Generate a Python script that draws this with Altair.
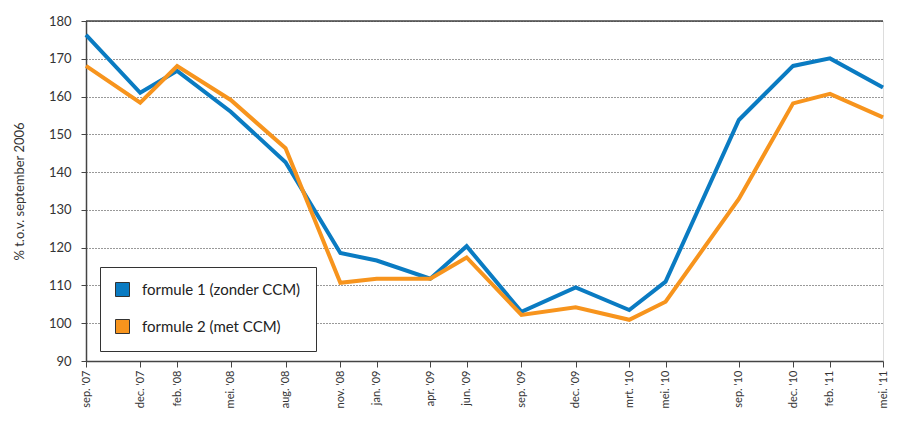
import json
from datetime import datetime, timezone
import altair as alt
import pandas as pd

DATES = ["2007-09-01", "2007-12-01", "2008-02-01", "2008-05-01", "2008-08-01",
         "2008-11-01", "2009-01-01", "2009-04-01", "2009-06-01", "2009-09-01",
         "2009-12-01", "2010-03-01", "2010-05-01", "2010-09-01", "2010-12-01",
         "2011-02-01", "2011-05-01"]
TICK_LABELS = ["sep. '07", "dec. '07", "feb. '08", "mei. '08", "aug. '08",
               "nov. '08", "jan. '09", "apr. '09", "jun. '09", "sep. '09",
               "dec. '09", "mrt. '10", "mei. '10", "sep. '10", "dec. '10",
               "feb. '11", "mei. '11"]
SERIES = ["formule 1 (zonder CCM)", "formule 2 (met CCM)"]
F1 = [176.3, 161.0, 166.8, 156.0, 142.6, 118.6, 116.6, 111.8, 120.4, 103.0,
      109.5, 103.5, 111.0, 153.8, 168.1, 170.1, 162.4]
F2 = [168.1, 158.4, 168.1, 159.1, 146.3, 110.7, 111.8, 111.8, 117.4, 102.2,
      104.2, 100.9, 105.7, 132.9, 158.2, 160.7, 154.5]
COLORS = ["#0a7bc2", "#f7941d"]
Y_TICKS = [90, 100, 110, 120, 130, 140, 150, 160, 170, 180]
Y_TOP = 180
X_DOMAIN = ["2007-09-01", "2011-05-01"]


def ms(d):
    return int(datetime.strptime(d, "%Y-%m-%d").replace(tzinfo=timezone.utc).timestamp() * 1000)


rows = []
for s, vals in zip(SERIES, [F1, F2]):
    for d, v in zip(DATES, vals):
        rows.append({"date": d, "value": v, "serie": s, "legenda": s})
df = pd.DataFrame(rows)
df_top = pd.DataFrame({"value": [Y_TOP]})

tick_ms = [ms(d) for d in DATES]
label_expr = "%s[indexof(%s, time(datum.value))]" % (json.dumps(TICK_LABELS), json.dumps(tick_ms))

FONT = "Lato"

x_enc = alt.X("date:T",
              scale=alt.Scale(type="utc", domain=[ms(X_DOMAIN[0]), ms(X_DOMAIN[1])], nice=False),
              axis=alt.Axis(values=tick_ms, labelExpr=label_expr, labelAngle=-90,
                            labelAlign="right", labelBaseline="middle", labelPadding=3,
                            tickSize=6, title=None, grid=False, labelFontSize=11,
                            labelColor="#333", tickColor="#444", domainColor="#444",
                            domainWidth=1.5, labelFont=FONT, labelOverlap=False))
y_enc = alt.Y("value:Q", scale=alt.Scale(domain=[90, 180], nice=False, zero=False),
              axis=alt.Axis(values=Y_TICKS, title="% t.o.v. september 2006",
                            titleFontWeight="normal", titleFontSize=13, titleColor="#333",
                            titleFont=FONT, titlePadding=22,
                            labelFontSize=13, labelColor="#333", labelFont=FONT,
                            labelPadding=10, tickSize=5, tickColor="#444",
                            domainColor="#444", domainWidth=1.5,
                            grid=True, gridDash=[1, 2], gridColor="#333", gridWidth=1))

base = alt.Chart(df)

top_rule = alt.Chart(df_top).mark_rule(color="#444", strokeWidth=1.5).encode(y=y_enc)

lines = base.mark_line(strokeWidth=4, clip=False).encode(
    x=x_enc, y=y_enc,
    stroke=alt.Stroke("serie:N", scale=alt.Scale(domain=SERIES, range=COLORS), legend=None),
)

keys = base.mark_square(size=0, filled=True).encode(
    x=x_enc, y=y_enc,
    fill=alt.Fill("legenda:N", scale=alt.Scale(domain=SERIES, range=COLORS),
                  legend=alt.Legend(orient="none", legendX=14, legendY=246, title=None,
                                    padding=15, rowPadding=18, fillColor="white",
                                    strokeColor="#333", symbolType="square",
                                    symbolSize=196, symbolStrokeColor="#333",
                                    symbolStrokeWidth=1, symbolOpacity=1,
                                    labelFontSize=15, labelFont=FONT,
                                    labelColor="#222", labelOffset=12)),
)

chart = alt.layer(lines, top_rule, keys).resolve_scale(fill="independent").properties(
    width=797, height=340,
    autosize=alt.AutoSizeParams(type="none"),
    padding={"left": 78, "top": 13, "right": 6, "bottom": 48},
).configure_view(
    stroke=None
).configure(background="white")

chart.save("out.html", embed_options={"renderer": "svg", "actions": False})
